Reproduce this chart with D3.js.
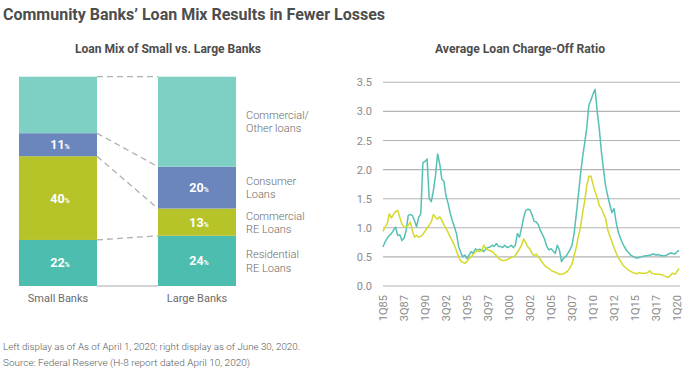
<!DOCTYPE html>
<html><head><meta charset="utf-8">
<script src="https://cdn.jsdelivr.net/npm/d3@7"></script>
<style>
body{margin:0;background:#fff;}
svg{display:block;font-family:Roboto,"Noto Sans",sans-serif;}
</style>
</head><body><svg id="c" width="690" height="371"></svg>
<script>
// ---------- DATA ----------
const categories = ["Small Banks", "Large Banks"];
const loanTypes = ["Residential RE Loans", "Commercial RE Loans", "Consumer Loans", "Commercial/Other loans"];
const legendLines = [["Residential", "RE Loans"], ["Commercial", "RE Loans"], ["Consumer", "Loans"], ["Commercial/", "Other loans"]];
const smallBanksMix = [22, 40, 11, 27];
const largeBanksMix = [24, 13, 20, 43];
const labelled = [true, true, true, false];

// quarterly charge-off ratio, 1Q85 .. 2Q20
const largeBanksChargeOff = [
  0.67,0.76,0.82,0.87,0.90,0.96,1.01,0.87,0.88,0.78,
  0.82,0.95,1.21,1.23,1.21,1.12,1.02,1.18,1.24,2.12,
  2.14,2.18,1.50,1.45,1.64,1.90,2.27,2.10,1.84,1.80,
  1.55,1.42,1.25,1.12,1.02,0.90,0.68,0.58,0.50,0.53,
  0.47,0.53,0.59,0.56,0.64,0.61,0.63,0.62,0.59,0.64,
  0.66,0.67,0.70,0.68,0.73,0.68,0.68,0.66,0.70,0.66,
  0.67,0.70,0.66,0.70,0.90,0.84,1.00,1.18,1.30,1.32,
  1.31,1.22,1.11,1.10,1.05,0.95,0.88,0.80,0.68,0.62,
  0.64,0.60,0.56,0.70,0.62,0.42,0.48,0.50,0.56,0.62,
  0.70,0.90,1.22,1.55,1.90,2.20,2.45,2.71,3.10,3.19,
  3.30,3.38,3.00,2.70,2.31,2.00,1.72,1.55,1.40,1.26,
  1.33,1.10,0.93,0.83,0.74,0.67,0.61,0.57,0.53,0.51,
  0.49,0.48,0.49,0.50,0.51,0.52,0.52,0.53,0.54,0.55,
  0.53,0.54,0.53,0.52,0.52,0.53,0.55,0.57,0.56,0.55,
  0.59,0.61
];
const communityBanksChargeOff = [
  0.94,1.01,1.07,1.24,1.17,1.23,1.28,1.30,1.18,1.06,
  1.02,1.01,1.04,1.10,0.95,0.84,0.87,0.84,0.85,0.89,
  0.94,1.00,1.04,1.10,1.23,1.18,1.15,1.19,1.13,1.05,
  0.99,0.92,0.84,0.78,0.70,0.60,0.50,0.43,0.41,0.39,
  0.42,0.47,0.50,0.55,0.58,0.61,0.59,0.61,0.70,0.64,
  0.62,0.61,0.59,0.56,0.52,0.48,0.45,0.44,0.44,0.45,
  0.47,0.49,0.50,0.52,0.58,0.64,0.70,0.81,0.74,0.67,
  0.63,0.56,0.52,0.55,0.50,0.45,0.40,0.35,0.32,0.30,
  0.27,0.25,0.24,0.22,0.20,0.20,0.21,0.23,0.26,0.31,
  0.38,0.52,0.66,0.85,1.00,1.25,1.45,1.72,1.88,1.89,
  1.75,1.62,1.52,1.38,1.33,1.24,1.16,0.97,0.86,0.76,
  0.66,0.57,0.49,0.43,0.37,0.33,0.30,0.27,0.25,0.23,
  0.22,0.21,0.23,0.22,0.22,0.22,0.23,0.26,0.22,0.21,
  0.20,0.20,0.20,0.19,0.17,0.16,0.15,0.19,0.22,0.20,
  0.25,0.30
];
const xTickLabels = ["1Q85","3Q87","1Q90","3Q92","1Q95","3Q97","1Q00","3Q02","1Q05","3Q07","1Q10","3Q12","1Q15","3Q17","1Q20"];
const yTickValues = [0, 0.5, 1.0, 1.5, 2.0, 2.5, 3.0, 3.5];

// ---------- STYLE ----------
const segColors = ["#4dbdaf", "#b6c42a", "#6b86bc", "#7ed0c4"];
const svg = d3.select("#c");

// Titles
svg.append("text").attr("x", 3).attr("y", 20).attr("font-size", 16).attr("font-weight", 700)
  .attr("fill", "#4d4d4d").attr("textLength", 382).attr("lengthAdjust", "spacingAndGlyphs")
  .text("Community Banks’ Loan Mix Results in Fewer Losses");
svg.append("text").attr("x", 168).attr("y", 53).attr("text-anchor", "middle").attr("font-size", 12).attr("font-weight", 700)
  .attr("fill", "#4d4d4d").attr("textLength", 186).attr("lengthAdjust", "spacingAndGlyphs")
  .text("Loan Mix of Small vs. Large Banks");
svg.append("text").attr("x", 520).attr("y", 53).attr("text-anchor", "middle").attr("font-size", 12).attr("font-weight", 700)
  .attr("fill", "#4d4d4d").attr("textLength", 170).attr("lengthAdjust", "spacingAndGlyphs")
  .text("Average Loan Charge-Off Ratio");

// ---------- LEFT: stacked bars ----------
const yL = d3.scaleLinear().domain([0, 100]).range([286, 76.7]);
const xL = d3.scaleOrdinal().domain(categories).range([19, 158]);
const barW = 78;
const mixes = [smallBanksMix, largeBanksMix];

function stackOf(mix) {
  let acc = 0;
  return mix.map((v, i) => { const s = { i, v, y0: acc, y1: acc + v }; acc += v; return s; });
}
const stacks = mixes.map(stackOf);

// baseline between bars
svg.append("line").attr("x1", xL(categories[0]) + barW).attr("x2", xL(categories[1]))
  .attr("y1", yL(0)).attr("y2", yL(0)).attr("stroke", "#aaa").attr("stroke-width", 1.2);

// dashed connectors at each boundary (top of each segment)
const gConn = svg.append("g");
stacks[0].forEach((s, k) => {
  gConn.append("line")
    .attr("x1", xL(categories[0]) + barW).attr("y1", yL(s.y1))
    .attr("x2", xL(categories[1])).attr("y2", yL(stacks[1][k].y1))
    .attr("stroke", "#b0b0b0").attr("stroke-width", 1.3).attr("stroke-dasharray", "6,4");
});

categories.forEach((cat, ci) => {
  const g = svg.append("g");
  g.selectAll("rect").data(stacks[ci]).join("rect")
    .attr("x", xL(cat)).attr("width", barW)
    .attr("y", d => yL(d.y1)).attr("height", d => yL(d.y0) - yL(d.y1))
    .attr("fill", d => segColors[d.i]);
  const lab = g.selectAll("text.v").data(stacks[ci].filter(d => labelled[d.i])).join("text")
    .attr("class", "v")
    .attr("x", xL(cat) + barW / 2 + 2).attr("y", d => (yL(d.y0) + yL(d.y1)) / 2 + 4.5)
    .attr("text-anchor", "middle").attr("fill", "#fff").attr("font-weight", 700).attr("font-size", 12.5);
  lab.append("tspan").text(d => d.v);
  lab.append("tspan").attr("font-size", 7).attr("font-weight", 700).text("%");
  svg.append("text").attr("x", xL(cat) + barW / 2).attr("y", 302).attr("text-anchor", "middle")
    .attr("font-size", 11).attr("fill", "#6a6a6a").text(cat);
});

// legend beside large bar
stacks[1].forEach(s => {
  const cy = (yL(s.y0) + yL(s.y1)) / 2;
  const t = svg.append("text").attr("font-size", 11).attr("fill", "#6a6a6a").attr("font-weight", 300);
  legendLines[s.i].forEach((ln, j) => {
    t.append("tspan").attr("x", 246).attr("y", cy - 6.6 + j * 13.3 + 4).text(ln);
  });
});

// ---------- RIGHT: line chart ----------
const nQ = largeBanksChargeOff.length;
const xR = d3.scaleLinear().domain([0, 140]).range([383, 677]);
const yR = d3.scaleLinear().domain([0, 3.5]).range([286, 82.3]);

// gridlines
svg.append("g").selectAll("line").data(yTickValues).join("line")
  .attr("x1", 383).attr("x2", 680).attr("y1", d => yR(d)).attr("y2", d => yR(d))
  .attr("stroke", "#b3b3b3").attr("stroke-width", 1.1);

const yAxis = d3.axisLeft(yR).tickValues(yTickValues).tickSize(0).tickPadding(0).tickFormat(d3.format(".1f"));
const gy = svg.append("g").attr("transform", "translate(372,0)").call(yAxis);
gy.select(".domain").remove();
gy.selectAll("text").attr("font-size", 11).attr("fill", "#8a8a8a").attr("font-family", "Roboto, sans-serif");

const xTickValues = xTickLabels.map((_, i) => i * 10);
const xAxis = d3.axisBottom(xR).tickValues(xTickValues).tickSize(0).tickFormat((d, i) => xTickLabels[i]);
const gx = svg.append("g").attr("transform", "translate(0,292)").call(xAxis);
gx.select(".domain").remove();
gx.selectAll("text").attr("font-size", 11).attr("fill", "#8a8a8a").attr("font-family", "Roboto, sans-serif")
  .attr("text-anchor", "end").attr("transform", "rotate(-90)").attr("x", -3).attr("y", 0).attr("dy", "0.35em");

const line = d3.line().x((d, i) => xR(i)).y(d => yR(d));
svg.append("path").datum(largeBanksChargeOff).attr("d", line).attr("fill", "none")
  .attr("stroke", "#55c1b4").attr("stroke-width", 1.5).attr("stroke-linejoin", "round");
svg.append("path").datum(communityBanksChargeOff).attr("d", line).attr("fill", "none")
  .attr("stroke", "#d3da2c").attr("stroke-width", 1.5).attr("stroke-linejoin", "round");

// ---------- footer ----------
svg.append("text").attr("x", 3).attr("y", 350).attr("font-size", 9.5).attr("fill", "#5a5a5a").attr("font-weight", 300)
  .attr("textLength", 297).attr("lengthAdjust", "spacingAndGlyphs")
  .text("Left display as of As of April 1, 2020; right display as of June 30, 2020.");
svg.append("text").attr("x", 3).attr("y", 366).attr("font-size", 9.5).attr("fill", "#5a5a5a").attr("font-weight", 300)
  .attr("textLength", 247).attr("lengthAdjust", "spacingAndGlyphs")
  .text("Source: Federal Reserve (H-8 report dated April 10, 2020)");
</script></body></html>
